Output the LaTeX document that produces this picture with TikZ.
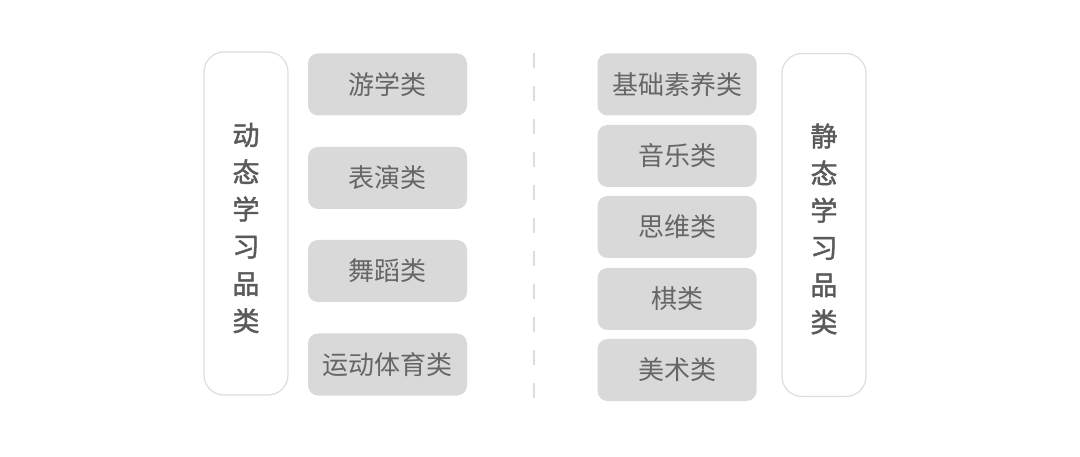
\documentclass[tikz,border=0pt]{standalone}
\usepackage{fontspec}
\newfontfamily\cjk{Noto Sans CJK SC}
\newfontfamily\cjkhead[FakeBold=1.6]{Noto Sans CJK SC}
\usetikzlibrary{positioning}
\definecolor{boxgray}{HTML}{D9D9D9}
\definecolor{linegray}{HTML}{DDDDDD}
\definecolor{txtgray}{HTML}{666666}
\definecolor{headgray}{HTML}{5A5A5A}
\tikzset{
  item/.style= {fill=boxgray, rounded corners=10pt, minimum width=159pt, minimum height=62pt,
    inner sep=0, text=txtgray, font=\cjk\fontsize{26}{30}\selectfont},
  group/.style= {draw=linegray, line width=1.2pt, fill=white, rounded corners=20pt,
    minimum width=84pt, minimum height=343pt, inner sep=0, text=headgray, align=center,
    font=\cjkhead\fontsize{27}{37.2}\selectfont},
}

\begin{document}
\begin{tikzpicture}[x=1pt, y=-1pt]
  \useasboundingbox (0,0) rectangle (1080,457) ;
  \node [group] (dyn) at (246,223.5) {} ;
  \node [group, draw=none, fill=none] (dynt) at (246,228) {动\\态\\学\\习\\品\\类} ;
  \node [item] (you) at (387.5,84.5) {游学类} ;
  \node [item] (biao) at (387.5,178) {表演类} ;
  \node [item] (wu) at (387.5,271) {舞蹈类} ;
  \node [item] (yun) at (387.5,364.5) {运动体育类} ;

  \coordinate (top) at (534,53) ;
  \coordinate (bot) at (534,402) ;
  \draw [linegray, line width=1.2pt, dash pattern=on 15pt off 18pt] (top) -- (bot) ;

  \node [item] (ji) at (677,84.5) {基础素养类} ;
  \node [item] (yin) at (677,156) {音乐类} ;
  \node [item] (si) at (677,227) {思维类} ;
  \node [item] (qi) at (677,299) {棋类} ;
  \node [item] (mei) at (677,370) {美术类} ;
  \node [group] (sta) at (824,225) {} ;
  \node [group, draw=none, fill=none] (stat) at (824,229) {静\\态\\学\\习\\品\\类} ;
\end{tikzpicture}
\end{document}
